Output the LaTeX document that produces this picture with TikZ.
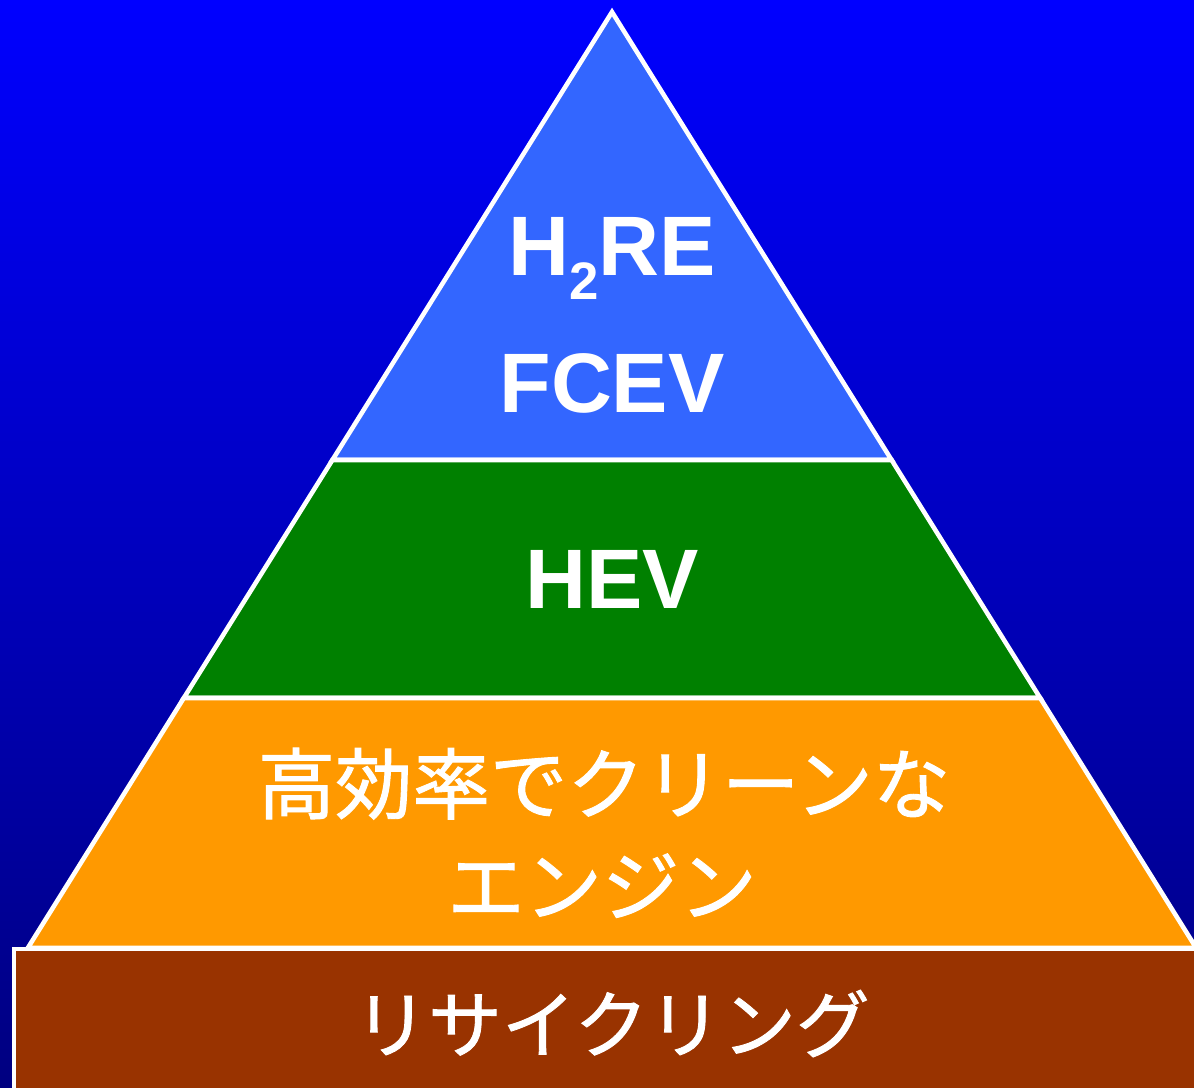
\documentclass[tikz,border=0pt]{standalone}
\usepackage{fontspec}
\setmainfont{Liberation Sans}
\newfontfamily\jfont[FakeBold=1.2]{Noto Sans CJK JP}
\usetikzlibrary{positioning}
\definecolor{skytop}{RGB}{0,0,255}
\definecolor{skybot}{RGB}{0,0,128}
\definecolor{tipblue}{RGB}{51,102,255}
\definecolor{hevgreen}{RGB}{0,128,0}
\definecolor{engorange}{RGB}{255,153,0}
\definecolor{recbrown}{RGB}{153,51,0}
\tikzset{
  layer/.style = {draw=white, line width=1.3pt, line join=miter},
  big/.style = {text=white, inner sep=0, font=\fontsize{24}{24}\selectfont\bfseries},
  jtxt/.style = {text=white, inner sep=0, font=\jfont\fontsize{22}{22}\selectfont},
}

\begin{document}
\begin{tikzpicture}[x=0.01cm, y=-0.01cm]
    \useasboundingbox (0,0) rectangle (1194,1087);
    \clip (0,0) rectangle (1194,1087);
    \shade[top color=skytop, bottom color=skybot] (0,0) rectangle (1194,1087);

    % pyramid, top to bottom
    \draw[layer, fill=tipblue] (612,12) -- (891.6,460) -- (332.4,460) -- cycle;
    \draw[layer, fill=hevgreen] (332.4,460) -- (891.6,460) -- (1040.2,698) -- (183.8,698) -- cycle;
    \draw[layer, fill=engorange] (183.8,698) -- (1040.2,698) -- (1196.2,948) -- (27.8,948) -- cycle;
    \draw[layer, fill=recbrown] (14,949) rectangle (1220,1120);

    \node[big, anchor=base] (h2re) at (612,275) {H\raisebox{-7pt}{\fontsize{15}{15}\selectfont 2}RE};
    \node[big, anchor=base] (fcev) at (612,412) {FCEV};
    \node[big, anchor=base] (hev) at (612,608) {HEV};
    \node[jtxt, anchor=base] (eng1) at (604,813) {高効率でクリーンな};
    \node[jtxt, anchor=base] (eng2) at (602,915) {エンジン};
    \node[jtxt, anchor=base, font=\jfont\fontsize{21}{21}\selectfont] (recyc) at (612,1052) {リサイクリング};
\end{tikzpicture}
\end{document}
